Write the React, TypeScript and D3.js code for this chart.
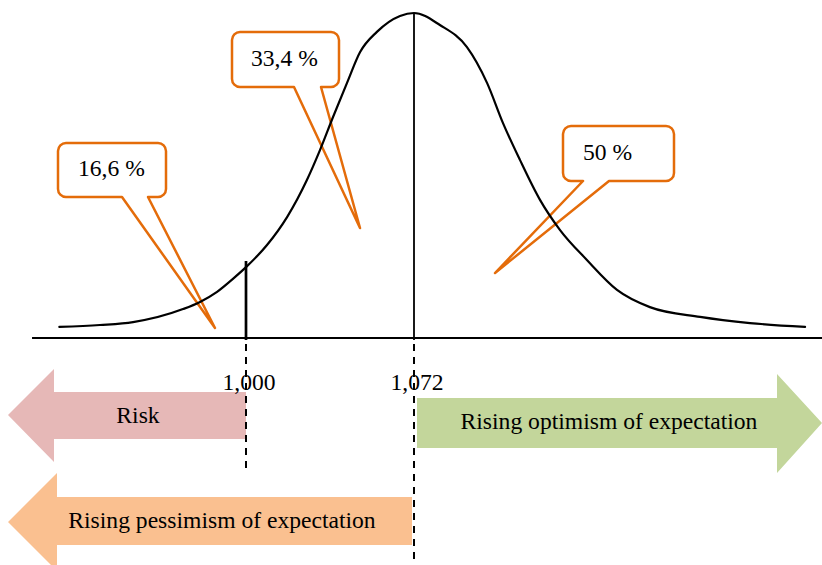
import React from "react";
import * as d3 from "d3";

// ---- data ----
const curveX = [0.92, 0.9374, 0.9516, 0.973, 0.9803, 0.9876, 0.9944, 1.0, 1.009, 1.0176, 1.0261, 1.0317, 1.0373, 1.0433, 1.0489, 1.0561, 1.066, 1.072, 1.0831, 1.0947, 1.1033, 1.1101, 1.1174, 1.126, 1.1346, 1.1461, 1.159, 1.1731, 1.1946, 1.216, 1.2396];
const curveY = [0.034, 0.04, 0.049, 0.089, 0.111, 0.142, 0.182, 0.218, 0.286, 0.372, 0.486, 0.578, 0.68, 0.785, 0.88, 0.942, 0.991, 1.0, 0.963, 0.895, 0.785, 0.662, 0.548, 0.425, 0.332, 0.24, 0.148, 0.095, 0.065, 0.046, 0.034];
const tickValues = [1.0, 1.072];
const tickLabels = ["1,000", "1,072"];
const calloutLabels = ["16,6 %", "33,4 %", "50 %"];
const arrowLabels = ["Risk", "Rising optimism of expectation", "Rising pessimism of expectation"];

// ---- layout ----
const W = 822, H = 565;
const AXIS_Y = 338;
const FONT = "'Liberation Serif', 'Times New Roman', serif";
const FS = 23.6;
const ORANGE = "#E46C0A";

const x = d3.scaleLinear().domain([1.0, 1.072]).range([246, 414]);
const y = d3.scaleLinear().domain([0, 1]).range([AXIS_Y, 13]);
const axisDomain = [0.9083, 1.2469];

// callout geometry: box [x0,y0,x1,y1], tail base [b1,b2], tip [tx,ty], text x
const callouts = [
  { box: [58, 143, 166, 197], base: [122, 148], tip: [215, 328], tx: 78, ty: 176 },
  { box: [232, 32, 339, 87], base: [294, 321], tip: [360, 228], tx: 251, ty: 66 },
  { box: [563, 126, 674, 181], base: [583, 609], tip: [495, 273], tx: 583, ty: 160 },
];

function calloutPath(c: any) {
  const [x0, y0, x1, y1] = c.box;
  const r = 8;
  const [b1, b2] = c.base;
  const [tx, ty] = c.tip;
  const p = d3.path();
  p.moveTo(x0 + r, y0);
  p.lineTo(x1 - r, y0);
  p.arcTo(x1, y0, x1, y0 + r, r);
  p.lineTo(x1, y1 - r);
  p.arcTo(x1, y1, x1 - r, y1, r);
  p.lineTo(b2, y1);
  p.lineTo(tx, ty);
  p.lineTo(b1, y1);
  p.lineTo(x0 + r, y1);
  p.arcTo(x0, y1, x0, y1 - r, r);
  p.lineTo(x0, y0 + r);
  p.arcTo(x0, y0, x0 + r, y0, r);
  p.closePath();
  return p.toString();
}

const arrows = [
  { color: "#E6B8B7", pts: [[8, 415], [54, 369], [54, 392], [246, 392], [246, 439], [54, 439], [54, 462]], tx: 138, ty: 423 },
  { color: "#C3D69B", pts: [[417, 398], [777, 398], [777, 374], [822, 423], [777, 473], [777, 448], [417, 448]], tx: 609, ty: 429 },
  { color: "#FAC090", pts: [[8, 522], [57, 473], [57, 497], [412, 497], [412, 545], [57, 545], [57, 571]], tx: 222, ty: 528 },
];

export default function App() {
  const data = curveX.map((v, i) => [v, curveY[i]] as [number, number]);
  const line = d3
    .line<[number, number]>()
    .x((d) => x(d[0]))
    .y((d) => y(d[1]))
    .curve(d3.curveMonotoneX);

  return (
    <svg width={W} height={H} style={{ position: "absolute", left: 0, top: 0, background: "#fff" }} fontFamily={FONT}>
      {/* arrows */}
      {arrows.map((a, i) => (
        <g key={"a" + i}>
          <polygon points={a.pts.map((p) => p.join(",")).join(" ")} fill={a.color} />
          <text x={a.tx} y={a.ty} textAnchor="middle" fontSize={FS} fill="#000">
            {arrowLabels[i]}
          </text>
        </g>
      ))}

      {/* callouts */}
      {callouts.map((c, i) => (
        <g key={"c" + i}>
          <path d={calloutPath(c)} fill="#fff" stroke={ORANGE} strokeWidth={2.5} strokeLinejoin="round" />
          <text x={c.tx} y={c.ty} fontSize={FS} fill="#000">
            {calloutLabels[i]}
          </text>
        </g>
      ))}

      {/* axis */}
      <line x1={x(axisDomain[0])} x2={x(axisDomain[1])} y1={AXIS_Y} y2={AXIS_Y} stroke="#000" strokeWidth={2} />

      {/* solid verticals */}
      <line x1={x(tickValues[0])} x2={x(tickValues[0])} y1={261} y2={AXIS_Y + 2} stroke="#000" strokeWidth={2.7} />
      <line x1={x(tickValues[1])} x2={x(tickValues[1])} y1={y(1)} y2={AXIS_Y + 2} stroke="#000" strokeWidth={1.8} />

      {/* dashed verticals */}
      <line x1={x(tickValues[0])} x2={x(tickValues[0])} y1={AXIS_Y + 6} y2={472} stroke="#000" strokeWidth={2} strokeDasharray="7,6" />
      <line x1={x(tickValues[1])} x2={x(tickValues[1])} y1={AXIS_Y + 6} y2={H} stroke="#000" strokeWidth={2} strokeDasharray="7,6" />

      {/* tick labels */}
      {tickValues.map((v, i) => (
        <text key={"t" + i} x={x(v) + 3} y={390} textAnchor="middle" fontSize={FS} fill="#000">
          {tickLabels[i]}
        </text>
      ))}

      {/* curve */}
      <path d={line(data) || ""} fill="none" stroke="#000" strokeWidth={2.2} strokeLinecap="round" />
    </svg>
  );
}
